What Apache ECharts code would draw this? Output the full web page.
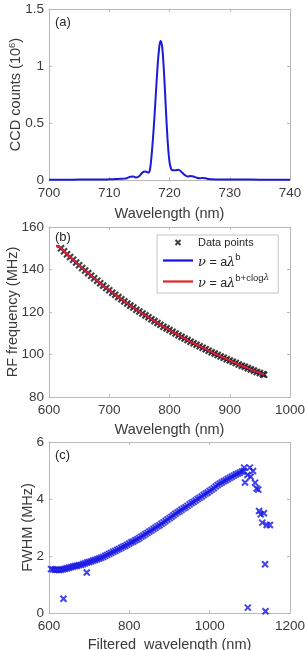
<!DOCTYPE html>
<html>
<head>
<meta charset="utf-8">
<script src="https://cdn.jsdelivr.net/npm/echarts@6/dist/echarts.min.js"></script>
<style>
  html, body { margin: 0; padding: 0; background: #fff; }
  #chart { width: 305px; height: 650px; }
</style>
</head>
<body>
<div id="chart"></div>
<script>
// ====== (a) spectrum ======
const specWl = [700, 702, 704, 706, 708, 710, 711, 712, 712.5, 713, 713.5, 714, 714.5, 715, 715.5, 716, 716.5, 716.75,
  717, 717.25, 717.5, 717.75, 718, 718.25, 718.5, 718.75, 719, 719.25, 719.5, 719.75, 720, 720.25, 720.5, 721, 721.5,
  722, 722.5, 723, 723.5, 724, 724.5, 725, 725.5, 726, 726.5, 727, 728, 730, 732, 735, 738, 740];
const specCounts = [0.003, 0.003, 0.003, 0.004, 0.004, 0.006, 0.008, 0.01, 0.012, 0.018, 0.028, 0.03, 0.022, 0.035, 0.065, 0.075, 0.065, 0.09,
  0.2, 0.36, 0.55, 0.77, 0.98, 1.14, 1.22, 1.18, 1.02, 0.78, 0.52, 0.3, 0.16, 0.1, 0.085, 0.085, 0.09,
  0.07, 0.045, 0.03, 0.035, 0.03, 0.02, 0.015, 0.018, 0.015, 0.008, 0.006, 0.005, 0.004, 0.004, 0.003, 0.003, 0.003];

// ====== (b) RF calibration ======
const calWl = [620, 625, 630, 635, 640, 645, 650, 655, 660, 665, 670, 675, 680, 685, 690, 695, 700, 705, 710, 715,
  720, 725, 730, 735, 740, 745, 750, 755, 760, 765, 770, 775, 780, 785, 790, 795, 800, 805, 810, 815,
  820, 825, 830, 835, 840, 845, 850, 855, 860, 865, 870, 875, 880, 885, 890, 895, 900, 905, 910, 915,
  920, 925, 930, 935, 940, 945, 950, 955, 957];
const calFreq = [150.0, 148.6, 147.2, 145.9, 144.6, 143.3, 142.0, 140.7, 139.5, 138.3, 137.1, 135.9, 134.7, 133.5, 132.4, 131.3, 130.2, 129.1, 128.1, 127.0,
  126.0, 125.0, 124.0, 123.0, 122.1, 121.1, 120.2, 119.3, 118.4, 117.5, 116.6, 115.7, 114.8, 114.0, 113.1, 112.3, 111.5, 110.7, 109.9, 109.1,
  108.3, 107.5, 106.8, 106.0, 105.3, 104.6, 103.9, 103.2, 102.5, 101.8, 101.1, 100.4, 99.8, 99.1, 98.5, 97.8, 97.2, 96.6, 96.0, 95.3,
  94.7, 94.2, 93.6, 93.0, 92.4, 91.8, 91.3, 90.7, 90.5];
const fitWl = [612, 620, 630, 640, 650, 660, 670, 680, 690, 700, 710, 720, 730, 740, 750, 760, 770, 780, 790, 800,
  810, 820, 830, 840, 850, 860, 870, 880, 890, 900, 910, 920, 930, 940, 950, 957];
const fitPow = [151.0, 149.8, 147.1, 144.5, 141.9, 139.4, 137.0, 134.6, 132.3, 130.1, 128.0, 126.0, 124.0, 122.1, 120.2, 118.4, 116.6, 114.8, 113.1, 111.5,
  109.9, 108.3, 106.8, 105.3, 103.8, 102.4, 101.0, 99.7, 98.4, 97.1, 95.8, 94.6, 93.4, 92.2, 91.0, 90.2];
const fitLog = [151.3, 150.0, 147.2, 144.6, 142.0, 139.5, 137.1, 134.7, 132.4, 130.2, 128.1, 126.0, 124.0, 122.1, 120.2, 118.4, 116.6, 114.8, 113.1, 111.5,
  109.9, 108.3, 106.8, 105.3, 103.9, 102.5, 101.1, 99.8, 98.5, 97.2, 96.0, 94.7, 93.6, 92.4, 91.3, 90.5];

// ====== (c) FWHM ======
const fwhmWl = [605, 610, 615, 620, 625, 630, 635, 640, 645, 650, 655, 660, 665, 670, 675, 680, 685, 690, 695, 700,
  705, 710, 715, 720, 725, 730, 735, 740, 745, 750, 755, 760, 765, 770, 775, 780, 785, 790, 795, 800,
  805, 810, 815, 820, 825, 830, 835, 840, 845, 850, 855, 860, 865, 870, 875, 880, 885, 890, 895, 900,
  905, 910, 915, 920, 925, 930, 935, 940, 945, 950, 955, 960, 965, 970, 975, 980, 985, 990, 995, 1000,
  1005, 1010, 1015, 1020, 1025, 1030, 1035, 1040, 1045, 1050, 1055, 1060, 1065, 1070, 1075, 1080, 1085,
  1086, 1088, 1094, 1095, 1100, 1102, 1108, 1113, 1117, 1121, 1123, 1127, 1131, 1135, 1138, 1139, 1142, 1150, 636, 694];
const fwhmVal = [1.54, 1.53, 1.52, 1.52, 1.51, 1.52, 1.53, 1.55, 1.57, 1.59, 1.61, 1.63, 1.65, 1.66, 1.68, 1.69, 1.72, 1.74, 1.77, 1.79,
  1.81, 1.84, 1.86, 1.89, 1.91, 1.94, 1.97, 2.01, 2.04, 2.08, 2.11, 2.15, 2.18, 2.22, 2.25, 2.29, 2.33, 2.36, 2.40, 2.44,
  2.48, 2.51, 2.55, 2.59, 2.63, 2.68, 2.72, 2.77, 2.81, 2.86, 2.90, 2.95, 2.99, 3.04, 3.08, 3.13, 3.18, 3.23, 3.28, 3.33,
  3.38, 3.43, 3.48, 3.53, 3.57, 3.62, 3.67, 3.71, 3.76, 3.81, 3.86, 3.90, 3.95, 4.00, 4.04, 4.09, 4.14, 4.19, 4.23, 4.28,
  4.33, 4.38, 4.44, 4.49, 4.54, 4.58, 4.62, 4.66, 4.70, 4.74, 4.78, 4.82, 4.86, 4.89, 4.92, 4.96, 4.98,
  5.10, 4.58, 4.84, 0.19, 5.10, 4.78, 4.98, 4.57, 4.37, 4.33, 3.58, 3.46, 3.17, 3.50, 1.71, 0.06, 3.09, 3.09, 0.50, 1.42];

const zip = (xs, ys) => xs.map((x, i) => [x, ys[i]]);

const FONT = "'Liberation Sans', Arial, sans-serif";
const AXIS_COLOR = "#b8b8b8";
const TEXT_COLOR = "#3a3a3a";
const CROSS = "path://M0,0L10,10M10,0L0,10";
// legend icons: a small cross inside a wider box, and a thin bar for the lines
const CROSS_ICON = "path://M0,0L10,10M10,0L0,10M-3,-3L-3,-3M13,13L13,13";
const LINE_ICON = "path://M0,0L30,0L30,2.2L0,2.2Z";

// panel layout + axis ranges
const panels = [
  { top: 9, height: 171, x: [700, 740, 10], y: [0, 1.5, 0.5], xName: "Wavelength (nm)", xGap: 25,
    yName: "CCD counts (10{sup|6})", yGap: 24, tag: "(a)", tagTop: 16 },
  { top: 227, height: 170, x: [600, 1000, 100], y: [80, 160, 20], xName: "Wavelength (nm)", xGap: 24,
    yName: "RF frequency (MHz)", yGap: 27, tag: "(b)", tagTop: 231 },
  { top: 442, height: 171, x: [600, 1200, 200], y: [0, 6, 2], xName: "Filtered  wavelength (nm)", xGap: 23,
    yName: "FWHM (MHz)", yGap: 12, tag: "(c)", tagTop: 449 },
];

const grid = [], xAxis = [], yAxis = [], title = [];
const tick = { show: true, inside: true, length: 3, lineStyle: { color: AXIS_COLOR } };
const line = { show: true, onZero: false, lineStyle: { color: AXIS_COLOR, width: 1 } };
const nameStyle = {
  color: TEXT_COLOR, fontSize: 14.5, fontFamily: FONT, lineHeight: 18,
  rich: { sup: { fontSize: 9.5, fontFamily: FONT, color: TEXT_COLOR, verticalAlign: "top", lineHeight: 18 } },
};

panels.forEach((p, i) => {
  grid.push({ left: 49, right: 15, top: p.top, height: p.height, containLabel: false, outerBoundsMode: "none" });
  const xr = { gridIndex: i, type: "value", min: p.x[0], max: p.x[1], interval: p.x[2], splitLine: { show: false }, axisLine: line, axisTick: tick };
  const yr = { gridIndex: i, type: "value", min: p.y[0], max: p.y[1], interval: p.y[2], splitLine: { show: false }, axisLine: line, axisTick: tick };
  xAxis.push({
    ...xr, position: "bottom",
    name: p.xName, nameLocation: "middle", nameGap: p.xGap, nameMoveOverlap: false, nameTextStyle: nameStyle,
    axisLabel: { color: TEXT_COLOR, fontSize: 13.5, fontFamily: FONT, margin: 6, formatter: (v) => String(v) },
  });
  xAxis.push({ ...xr, position: "top", axisLabel: { show: false } });
  yAxis.push({
    ...yr, position: "left",
    name: p.yName, nameLocation: "middle", nameGap: p.yGap, nameMoveOverlap: false, nameTextStyle: nameStyle,
    axisLabel: { color: TEXT_COLOR, fontSize: 13.5, fontFamily: FONT, margin: 5, formatter: (v) => String(v) },
  });
  yAxis.push({ ...yr, position: "right", axisLabel: { show: false } });
  title.push({
    text: p.tag, left: 55, top: p.tagTop, padding: 0,
    textStyle: { color: "#262626", fontSize: 13, fontWeight: "normal", fontFamily: FONT },
  });
});

const legendText = {
  "Data points": "{dp|Data points}",
  pow: "{g|ν}{m| = a}{g|λ}{sup|b}",
  log: "{g|ν}{m| = a}{g|λ}{sup|b+clog}{sg|λ}",
};

const option = {
  animation: false,
  backgroundColor: "#fff",
  title,
  grid,
  xAxis,
  yAxis,
  legend: {
    left: 157, top: 235, orient: "vertical",
    padding: [2, 9, 3, 6], itemGap: 4, itemWidth: 30, itemHeight: 8,
    backgroundColor: "#fff", borderColor: "#c4c4c4", borderWidth: 1, borderRadius: 0,
    data: [
      { name: "Data points", icon: CROSS_ICON },
      { name: "pow", icon: LINE_ICON },
      { name: "log", icon: LINE_ICON },
    ],
    formatter: (n) => legendText[n],
    textStyle: {
      color: "#262626", fontFamily: FONT, fontSize: 12.5,
      rich: {
        dp: { fontSize: 11, fontFamily: FONT, color: "#262626", lineHeight: 16 },
        g: { fontSize: 13, fontFamily: "'DejaVu Serif', serif", fontStyle: "italic", color: "#262626", lineHeight: 17, verticalAlign: "bottom" },
        m: { fontSize: 12.5, fontFamily: FONT, color: "#262626", lineHeight: 17, verticalAlign: "bottom" },
        sup: { fontSize: 9.5, fontFamily: FONT, color: "#262626", lineHeight: 17, verticalAlign: "top" },
        sg: { fontSize: 9, fontFamily: "'DejaVu Serif', serif", fontStyle: "italic", color: "#262626", lineHeight: 17, verticalAlign: "top" },
      },
    },
  },
  series: [
    {
      type: "line", xAxisIndex: 0, yAxisIndex: 0,
      data: zip(specWl, specCounts),
      smooth: 0.35, symbol: "none",
      lineStyle: { color: "#1c1cd8", width: 2 },
    },
    {
      name: "Data points", type: "scatter", xAxisIndex: 2, yAxisIndex: 2,
      data: zip(calWl, calFreq),
      symbol: CROSS, symbolSize: 6,
      itemStyle: { color: "#111", borderColor: "#111", borderWidth: 2.2 },
    },
    {
      name: "pow", type: "line", xAxisIndex: 2, yAxisIndex: 2,
      data: zip(fitWl, fitPow),
      smooth: true, symbol: "none",
      lineStyle: { color: "#1010e0", width: 2 },
      itemStyle: { color: "#1010e0", borderWidth: 0 },
    },
    {
      name: "log", type: "line", xAxisIndex: 2, yAxisIndex: 2,
      data: zip(fitWl, fitLog),
      smooth: true, symbol: "none",
      lineStyle: { color: "#e02424", width: 2 },
      itemStyle: { color: "#e02424", borderWidth: 0 },
    },
    {
      type: "scatter", xAxisIndex: 4, yAxisIndex: 4,
      data: zip(fwhmWl, fwhmVal),
      symbol: CROSS, symbolSize: 6,
      itemStyle: { color: "#1717e6", borderColor: "#1717e6", borderWidth: 2 },
    },
  ],
};

const chart = echarts.init(document.getElementById("chart"));
chart.setOption(option);
</script>
</body>
</html>
